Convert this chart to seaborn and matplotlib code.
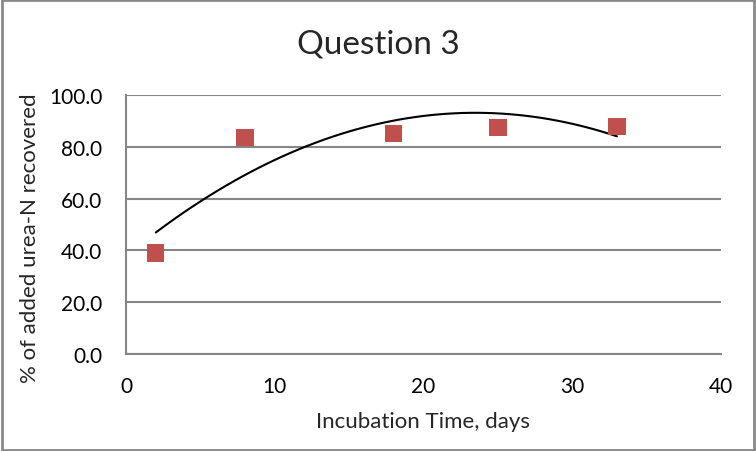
import numpy as np
import pandas as pd
import matplotlib
matplotlib.use("Agg")
import matplotlib.pyplot as plt
import seaborn as sns

# data
days = [2, 8, 18, 25, 33]
recovered = [39.0, 83.6, 85.2, 87.5, 87.8]
x_ticks = [0, 10, 20, 30, 40]
y_ticks = [0, 20, 40, 60, 80, 100]

df = pd.DataFrame({"days": days, "recovered": recovered})

sns.set_theme(style="white")
plt.rcParams["font.family"] = ["Lato", "DejaVu Sans"]

grey = "#868686"
fig = plt.figure(figsize=(7.56, 4.52), dpi=100)
ax = fig.add_axes([0.1667, 0.2146, 0.787, 0.573])

# polynomial (order 2) trendline, like the Excel one
sns.regplot(data=df, x="days", y="recovered", order=2, ci=None, scatter=False,
            ax=ax, line_kws={"color": "black", "lw": 1.5})
sns.scatterplot(data=df, x="days", y="recovered", ax=ax, marker="s", s=155,
                color="#C0504D", edgecolor="none", zorder=3)

ax.set_xlim(0, 40)
ax.set_ylim(0, 100)
ax.set_xticks(x_ticks)
ax.set_yticks(y_ticks)
ax.set_yticklabels([f"{v:.1f}" for v in y_ticks])
ax.yaxis.grid(True, color=grey, lw=1.5)
ax.xaxis.grid(False)
ax.set_axisbelow(True)
for s in ["top", "right"]:
    ax.spines[s].set_visible(False)
for s in ["left", "bottom"]:
    ax.spines[s].set_color(grey)
    ax.spines[s].set_linewidth(1.5)
ax.tick_params(axis="both", direction="out", length=6, width=1.5, color=grey,
               labelsize=15, labelcolor="black")
ax.tick_params(axis="x", pad=10)
ax.tick_params(axis="y", length=9, pad=8)

ax.set_xlabel("")
ax.set_ylabel("")
fig.text(423 / 756, 1 - 422 / 452, "Incubation Time, days", ha="center", va="center", fontsize=16)
fig.text(30 / 756, 1 - 238 / 452, "% of added urea-N recovered", ha="center", va="center",
         rotation=90, fontsize=16)
fig.text(378 / 756, 1 - 45 / 452, "Question 3", ha="center", va="center", fontsize=24)

# grey border round the whole chart
fig.patches.append(plt.Rectangle((0.002, 0.003), 0.996, 0.994, transform=fig.transFigure,
                                 fill=False, edgecolor="#898989", lw=2))

fig.savefig("out.png", dpi=100)
